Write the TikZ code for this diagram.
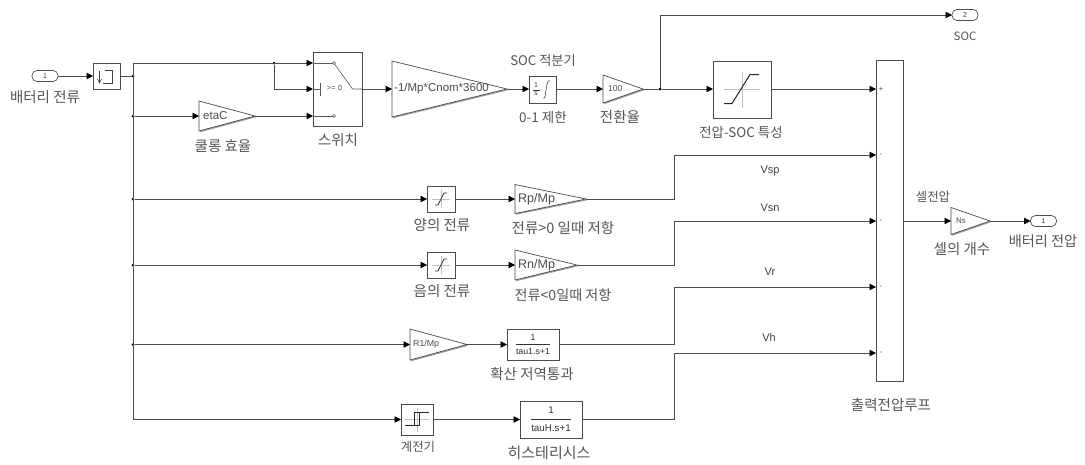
\documentclass[tikz,border=0pt]{standalone}
\usepackage{fontspec}
\setmainfont{Noto Sans CJK KR}
\newfontfamily\blockfont{Liberation Sans}
\usepackage{tikz}
\usetikzlibrary{calc,positioning,arrows.meta,shapes.geometric,shadows}
\definecolor{wirecol}{gray}{0.3}
\definecolor{labelcol}{gray}{0.33}

\begin{document}
\begin{tikzpicture}[
    x=1pt, y=-1pt,
    shade/.style={drop shadow={shadow xshift=1.2pt, shadow yshift=-1.2pt, fill=black!55, opacity=0.7}},
    blockbox/.style={draw=black!70, fill=white, line width=0.7pt, inner sep=0pt, outer sep=0pt, shade, font=\blockfont\fontsize{8}{9}\selectfont, text=black!75, align=center},
    gainblock/.style={draw=black!70, fill=white, line width=0.7pt, isosceles triangle, isosceles triangle stretches, anchor=west, inner sep=0pt, outer sep=0pt, shade},
    gaintext/.style={font=\blockfont\fontsize{#1}{#1}\selectfont, text=black!70, inner sep=0pt},
    portbox/.style={draw=black!70, fill=white, line width=0.7pt, rounded corners=5pt, minimum width=26pt, minimum height=11pt, inner sep=0pt, outer sep=0pt, font=\blockfont\fontsize{7}{7}\selectfont, text=black!80},
    wire/.style={draw=wirecol, line width=0.8pt},
    arr/.style={wire, -{Triangle[length=6.5pt, width=6.5pt, color=black]}},
    junction/.style={circle, fill=black, minimum size=3pt, inner sep=0pt, outer sep=0pt},
    lbl/.style={font=\fontsize{#1}{#1}\selectfont, text=labelcol, inner sep=0pt},
    lbl/.default=14.5,
    signal/.style={font=\blockfont\fontsize{11}{11}\selectfont, text=black!75, inner sep=0pt},
    fractext/.style={font=\blockfont\fontsize{#1}{#1}\selectfont, text=black!80, inner sep=0pt},
    satblock/.style={blockbox, minimum width=28pt, minimum height=26pt, path picture={
        \begin{scope}[shift={(path picture bounding box.center)}]
            \draw[black!25, line width=0.5pt] (-9,0) -- (9,0) (0,-9) -- (0,9);
            \draw[black!80, line width=0.8pt] (-6,6) -- (-3,6) -- (3,-6) -- (6,-6);
        \end{scope}}},
]
\useasboundingbox (0,0) rectangle (1085,464);

% main blocks
\node[portbox] (inA) at (45,76) {1};
\node[blockbox, minimum width=27pt, minimum height=26pt, path picture={
    \begin{scope}[shift={(path picture bounding box.center)}]
        \draw[black!75, line width=0.6pt] (-7,7) -- (-7,-5) (-9,3) -- (-7,7) -- (-5,3);
        \draw[black!75, line width=0.6pt] (-4,7) -- (6,7) -- (6,-6) -- (-2,-6);
    \end{scope}}] (edge) at (106.5,76) {};
\node[gainblock, minimum height=56pt, minimum width=30pt, label={[gaintext=11.5, anchor=west, xshift=4pt]180:etaC}] (etaC) at (199,116) {};
\node[blockbox, minimum width=49pt, minimum height=74pt] (sw) at (337.5,89) {};
\node[gainblock, minimum height=115pt, minimum width=56pt, label={[gaintext=11.5, anchor=west, xshift=2pt]180:-1/Mp*Cnom*3600}] (capGain) at (392,89) {};
\node[blockbox, minimum width=27pt, minimum height=27pt, path picture={
    \begin{scope}[shift={(path picture bounding box.center)}]
        \node[fractext=7, align=center] (intFrac) at (-6.5,0) {1\\[1pt]s};
        \draw[black!80, line width=0.5pt] (-10,0.5) -- (-3,0.5);
        \draw[black!75, line width=0.6pt] (1,9) .. controls (4,9) and (3,-9) .. (7,-9);
    \end{scope}}] (integ) at (542.5,89.5) {};
\node[gainblock, minimum height=40pt, minimum width=28pt, label={[gaintext=8.5, anchor=west, xshift=5pt]180:100}] (pct) at (603,89) {};
\node[blockbox, minimum width=58pt, minimum height=57pt, path picture={
    \begin{scope}[shift={(path picture bounding box.center)}]
        \draw[black!25, line width=0.8pt] (-18,0) -- (18,0) (0,-18) -- (0,18);
        \draw[black!85, line width=1pt] (-18,14) -- (-10,14) -- (8,-15) -- (17,-15);
    \end{scope}}] (socCurve) at (742,89.5) {};
\node[blockbox, minimum width=27pt, minimum height=321pt] (loop) at (889.5,220.5) {};
\node[portbox] (outB) at (965,15) {2};
\node[gainblock, minimum height=39pt, minimum width=27pt, label={[gaintext=8, anchor=west, xshift=5pt]180:Ns}] (cells) at (951,221) {};
\node[portbox] (outA) at (1043.5,221) {1};

% lower rows
\node[satblock] (satP) at (441,199) {};
\node[gainblock, minimum height=71pt, minimum width=29pt, label={[gaintext=12.5, anchor=west, xshift=3pt]180:Rp/Mp}] (gainP) at (515,199) {};
\node[satblock] (satN) at (441,265) {};
\node[gainblock, minimum height=62pt, minimum width=30pt, label={[gaintext=12.5, anchor=west, xshift=3pt]180:Rn/Mp}] (gainN) at (515,265) {};
\node[gainblock, minimum height=57pt, minimum width=31pt, label={[gaintext=8.8, anchor=west, xshift=3pt]180:R1/Mp}] (gainR) at (410,344.5) {};
\node[blockbox, minimum width=52pt, minimum height=31pt, path picture={
    \begin{scope}[shift={(path picture bounding box.center)}]
        \draw[black!80, line width=0.5pt] (-17,0) -- (17,0);
        \node[fractext=8.8] (lagRnum) at (0,-7) {1};
        \node[fractext=8.8] (lagRden) at (0,7) {tau1.s+1};
    \end{scope}}] (lagR) at (533,344.5) {};
\node[blockbox, minimum width=32pt, minimum height=31pt, path picture={
    \begin{scope}[shift={(path picture bounding box.center)}]
        \draw[black!25, line width=0.5pt] (-12,0) -- (12,0) (0,-12) -- (0,12);
        \draw[black!85, line width=0.8pt] (-12,6) -- (2,6) -- (2,-7) -- (12,-7);
        \draw[black!85, line width=0.8pt] (-3,6) -- (-3,-7) -- (2,-7);
    \end{scope}}] (relay) at (417,419.5) {};
\node[blockbox, minimum width=62pt, minimum height=37pt, path picture={
    \begin{scope}[shift={(path picture bounding box.center)}]
        \draw[black!80, line width=0.5pt] (-20,0) -- (20,0);
        \node[fractext=9.8] (lagHnum) at (0,-9) {1};
        \node[fractext=9.8] (lagHden) at (0,9) {tauH.s+1};
    \end{scope}}] (lagH) at (551,419.5) {};

% switch inside
\begin{scope}[shift={(sw.center)}]
    \draw[black!65, line width=0.6pt] (-24.5,-26) -- (-5,-26);
    \draw[black!65, line width=0.6pt] (-24.5,27) -- (-5,27);
    \draw[black!65, line width=0.6pt] (-24.5,0) -- (-17,0);
    \draw[black!65, line width=0.8pt] (-17,-6) -- (-17,7);
    \draw[black!65, line width=0.6pt] (-3,-25) -- (15,0) -- (24.5,0);
    \draw[black!65, line width=0.6pt] (-3.5,-26) circle (1.5) (-3.5,27) circle (1.5);
    \node[gaintext=7.5] (swCond) at (-3,-1) {>= 0};
\end{scope}

% junctions
\node[junction] (jIn) at (133,76) {};
\node[junction] (jSw) at (274,63) {};
\node[junction] (jEta) at (133,116) {};
\node[junction] (jP) at (133,199) {};
\node[junction] (jN) at (133,265) {};
\node[junction] (jR) at (133,344.5) {};
\node[junction] (jSoc) at (660,89) {};
\coordinate (busTop) at (133,63);
\coordinate (busEnd) at (133,419.5);
\coordinate (swLow) at (274,89);
\coordinate (socTop) at (660,15);
\coordinate (vspK) at (674,155);
\coordinate (vsnK) at (674,221);
\coordinate (vrK) at (674,287);
\coordinate (vhK) at (674,353);

% wires
\draw[arr] (inA) -- (edge);
\draw[wire] (edge) -- (jIn);
\draw[wire] (busTop) -- (busEnd);
\draw[arr] (busTop) -- (sw.west |- busTop);
\draw[wire] (jSw) -- (swLow);
\draw[arr] (swLow) -- (sw.west |- swLow);
\draw[arr] (jEta) -- (etaC.west);
\draw[arr] (etaC.east) -- (sw.west |- etaC.east);
\draw[arr] (sw.east |- capGain.west) -- (capGain.west);
\draw[arr] (capGain.east) -- (integ.west |- capGain.east);
\draw[arr] (integ.east |- pct.west) -- (pct.west);
\draw[wire] (pct.east) -- (jSoc);
\draw[arr] (jSoc) -- (socCurve.west |- jSoc);
\draw[arr] (jSoc) -- (socTop) -- (outB);
\draw[arr] (socCurve.east |- jSoc) -- (loop.west |- jSoc);

\draw[arr] (jP) -- (satP);
\draw[arr] (satP) -- (gainP.west |- satP);
\draw[arr] (gainP.east) -| (vspK) -- (loop.west |- vspK);
\draw[arr] (jN) -- (satN);
\draw[arr] (satN) -- (gainN.west |- satN);
\draw[arr] (gainN.east) -| (vsnK) -- (loop.west |- vsnK);
\draw[arr] (jR) -- (gainR.west);
\draw[arr] (gainR.east) -- (lagR.west |- gainR.east);
\draw[arr] (lagR.east) -| (vrK) -- (loop.west |- vrK);
\draw[arr] (busEnd) -- (relay);
\draw[arr] (relay) -- (lagH);
\draw[arr] (lagH) -| (vhK) -- (loop.west |- vhK);

\draw[arr] (loop.east |- cells.west) -- (cells.west);
\draw[arr] (cells.east) -- (outA);

% sum signs
\node[gaintext=7.5] (signA) at (881,89) {+};
\foreach \yy/\nm in {155/signB, 221/signC, 287/signD, 353/signE}
    \node[gaintext=7.5] (\nm) at (881,\yy) {-};

% labels
\node[lbl] (tInA) at (45,97) {배터리 전류};
\node[lbl] (tEta) at (223,146) {쿨롱 효율};
\node[lbl] (tSw) at (338,140) {스위치};
\node[lbl=13.2] (tInt) at (543,61) {SOC 적분기};
\node[lbl=13.5] (tLim) at (543,117) {0-1 제한};
\node[lbl] (tPct) at (620,117) {전환율};
\node[lbl=13.4] (tCurve) at (741,132) {전압-SOC 특성};
\node[lbl=11.5] (tSoc) at (965,36) {SOC};
\node[lbl=12.4] (tCellV) at (933,197) {셀전압};
\node[lbl] (tCells) at (962,249) {셀의 개수};
\node[lbl=14.2] (tOut) at (1043,241) {배터리 전압};
\node[lbl] (tLoop) at (891,405) {출력전압루프};
\node[lbl] (tSatP) at (442,225) {양의 전류};
\node[lbl] (tGainP) at (563,228) {전류>0 일때 저항};
\node[lbl] (tSatN) at (442,291) {음의 전류};
\node[lbl=14.1] (tGainN) at (563,295) {전류<0일때 저항};
\node[lbl] (tLagR) at (532,374) {확산 저역통과};
\node[lbl=12.4] (tRelay) at (418,447) {계전기};
\node[lbl=15] (tLagH) at (549,453) {히스테리시스};
\node[signal] (tVsp) at (770,171) {Vsp};
\node[signal] (tVsn) at (770,208) {Vsn};
\node[signal] (tVr) at (770,272) {Vr};
\node[signal] (tVh) at (769,338) {Vh};
\end{tikzpicture}
\end{document}
